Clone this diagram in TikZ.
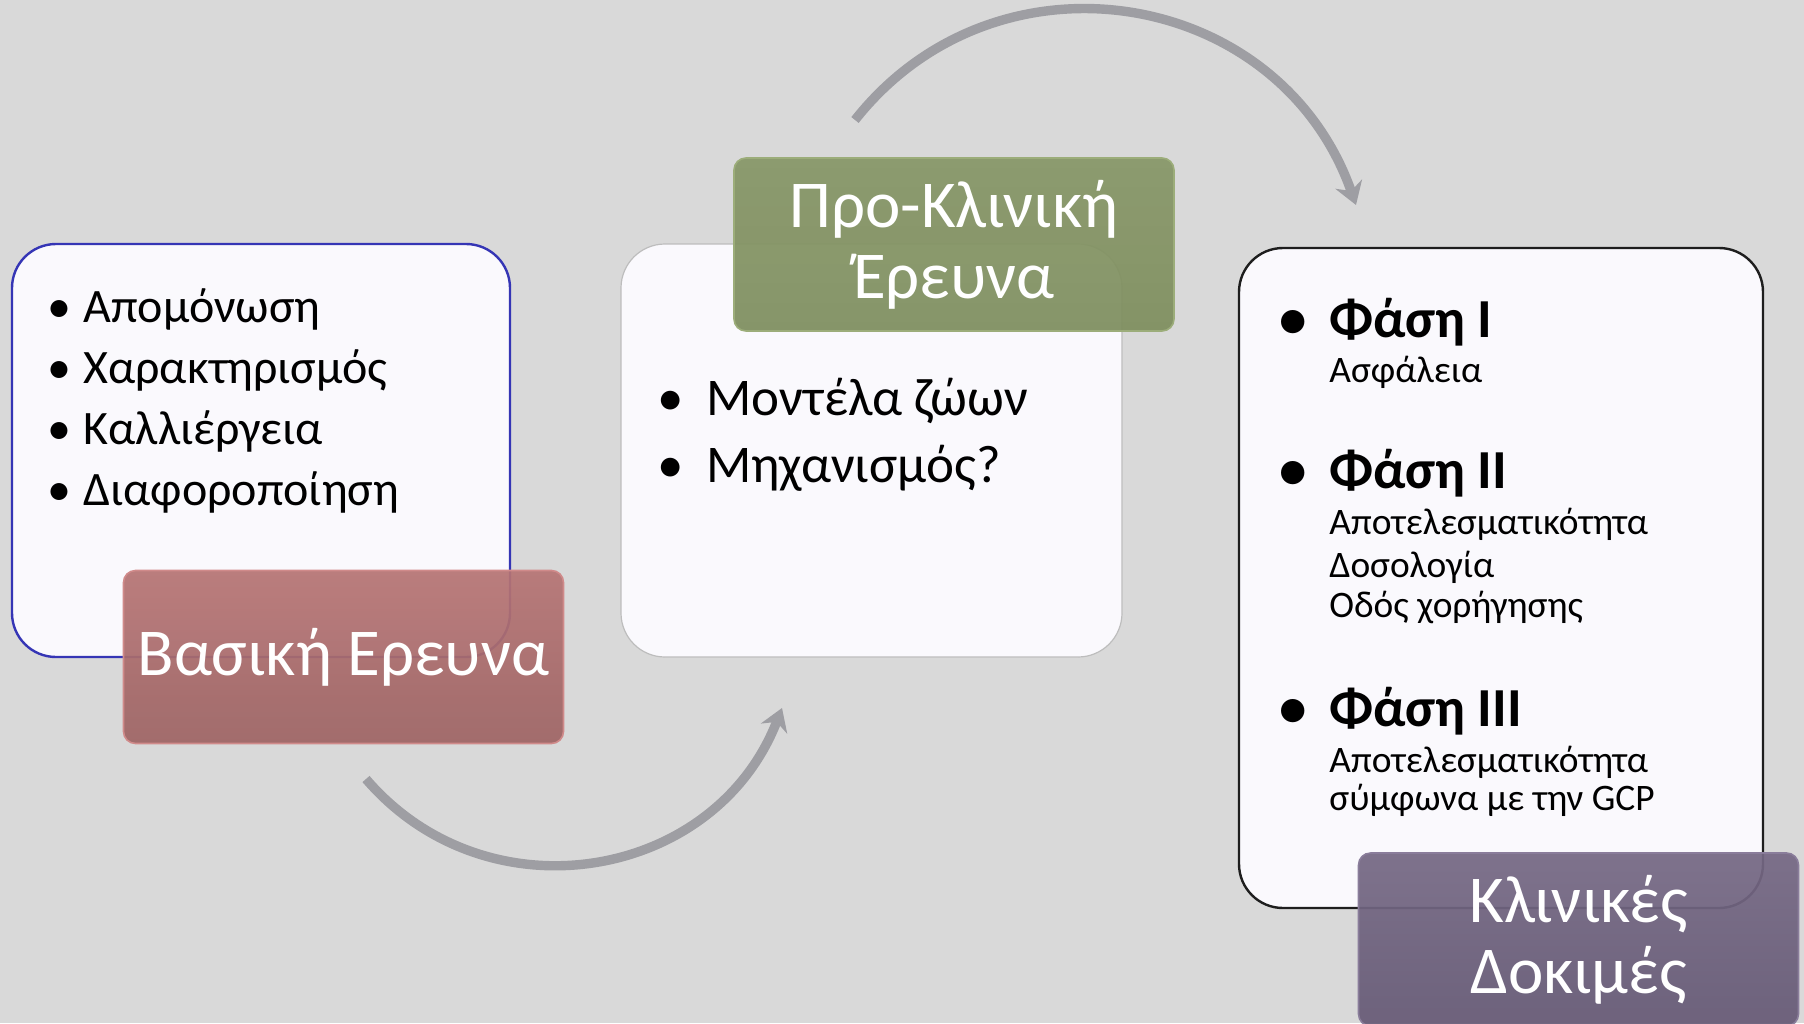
\documentclass[tikz,border=0pt]{standalone}
\usepackage{fontspec}
\setmainfont{Carlito}
\usetikzlibrary{arrows.meta}
\definecolor{bg}{HTML}{D9D9D9}
\definecolor{cardfill}{HTML}{FAF9FD}
\definecolor{bluerim}{HTML}{3535B5}
\definecolor{grayrim}{HTML}{BDBDBD}
\definecolor{darkrim}{HTML}{1E1E1E}
\definecolor{redtop}{HTML}{B67474}
\definecolor{redbot}{HTML}{9E6464}
\definecolor{redrim}{HTML}{D08A8A}
\definecolor{greentop}{HTML}{879767}
\definecolor{greenbot}{HTML}{7E8E5E}
\definecolor{greenrim}{HTML}{9CAD7A}
\definecolor{purpletop}{HTML}{756884}
\definecolor{purplebot}{HTML}{665A76}
\definecolor{purplerim}{HTML}{8A7D9B}
\definecolor{arrowgray}{HTML}{9E9EA3}

\begin{document}
\begin{tikzpicture}[x=0.5pt,y=-0.5pt,
  card/.style={draw,line width=1.2pt,fill=cardfill,rounded corners=22pt,inner sep=0pt},
  tag/.style={rounded corners=6pt,fill opacity=0.93,text opacity=1,text=white,inner sep=0pt,line width=0.8pt,
    minimum width=220pt,minimum height=86.5pt,align=center,font=\fontsize{33.5}{35.5}\selectfont},
  item/.style={anchor=base west,inner sep=0pt},
  pip/.style={anchor=base,inner sep=0pt},
  cycle arrow/.style={draw=arrowgray,line width=4.7pt,-{Stealth[length=11pt,width=14pt]}}]
  \fill[bg,use as bounding box] (0,0) rectangle (1804,1023);
  % white cards
  \node[card,draw=bluerim,minimum width=249pt,minimum height=206.5pt] (basic) at (261,450.5) {};
  \node[card,draw=grayrim,line width=0.6pt,minimum width=250.5pt,minimum height=206.5pt] (preclin) at (871.5,450.5) {};
  \node[card,draw=darkrim,minimum width=262pt,minimum height=330pt] (clin) at (1501,578) {};
  % card contents
  \begin{scope}[font=\fontsize{24}{30}\selectfont]
    \foreach \txt [count=\i] in {Απομόνωση,Χαρακτηρισμός,Καλλιέργεια,Διαφοροποίηση} {
      \node[pip] (bp\i) at (59,261+61*\i) {\textbullet};
      \node[item] (bt\i) at (83,261+61*\i) {\txt};
    }
  \end{scope}
  \begin{scope}[font=\fontsize{26.5}{33}\selectfont]
    \foreach \txt [count=\i] in {Μοντέλα ζώων,Μηχανισμός?} {
      \node[pip] (pp\i) at (671,348+67*\i) {\textbullet};
      \node[item] (pt\i) at (706,348+67*\i) {\txt};
    }
  \end{scope}
  \begin{scope}[font=\fontsize{27.5}{33}\selectfont\bfseries]
    \foreach \txt/\y [count=\i] in {Φάση I/337,Φάση II/488,Φάση III/726} {
      \node[pip] (cp\i) at (1293,\y) {\textbullet};
      \node[item] (ct\i) at (1329,\y) {\txt};
    }
  \end{scope}
  \begin{scope}[font=\fontsize{18.7}{20.5}\selectfont]
    \node[item] (s1) at (1329,382) {Ασφάλεια};
    \node[item] (s2) at (1329,534) {Αποτελεσματικότητα};
    \node[item] (s3) at (1329,577) {Δοσολογία};
    \node[item] (s4) at (1329,617) {Οδός χορήγησης};
    \node[item] (s5) at (1329,772) {Αποτελεσματικότητα};
    \node[item] (s6) at (1329,810) {σύμφωνα με την GCP};
  \end{scope}
  % stage tags
  \node[tag,top color=redtop,bottom color=redbot,draw=redrim] (basiclab) at (343.5,657) {Βασική Ερευνα};
  \node[tag,top color=greentop,bottom color=greenbot,draw=greenrim] (preclab) at (954,244.5) {Προ-Κλινική\\Έρευνα};
  \node[tag,top color=purpletop,bottom color=purplebot,draw=purplerim] (clinlab) at (1578.5,939.5) {Κλινικές\\Δοκιμές};
  % cycle arrows
  \coordinate (lowstart) at (366,779);
  \coordinate (lowend) at (782,708);
  \coordinate (highstart) at (855,120);
  \coordinate (highend) at (1356,205);
  \draw[cycle arrow] (lowstart) .. controls (487,920) and (715,881) .. (lowend);
  \draw[cycle arrow] (highstart) .. controls (997,-60) and (1280,-12) .. (highend);
\end{tikzpicture}
\end{document}
